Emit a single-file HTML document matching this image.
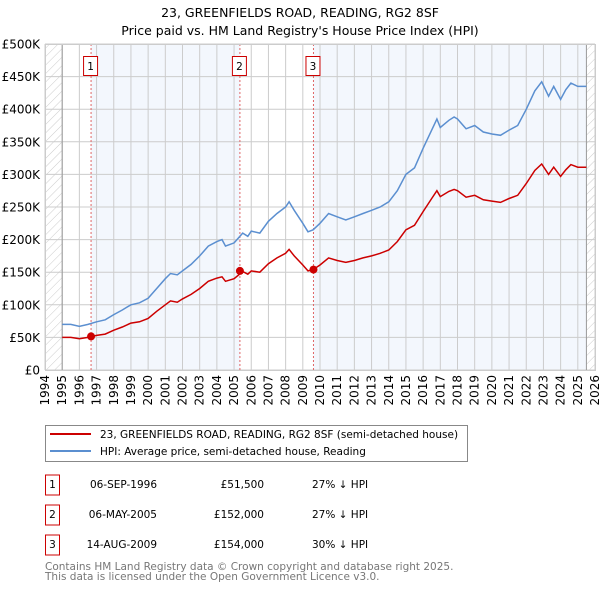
<!DOCTYPE html>
<html><head><meta charset="utf-8"><style>
html,body{margin:0;padding:0;background:#fff;}
svg{display:block;font-family:"DejaVu Sans","Liberation Sans",sans-serif;}
</style></head><body>
<svg id="chart" width="600" height="590" viewBox="0 0 600 590">
<defs>
<pattern id="hatch" width="6" height="6" patternUnits="userSpaceOnUse" patternTransform="rotate(45)">
<line x1="0" y1="0" x2="0" y2="6" stroke="#ccc" stroke-width="1"/>
</pattern>
</defs>
<text x="300" y="17" text-anchor="middle" font-size="12.5">23, GREENFIELDS ROAD, READING, RG2 8SF</text>
<text x="300" y="35" text-anchor="middle" font-size="12.5">Price paid vs. HM Land Registry's House Price Index (HPI)</text>
<g id="plot"></g>
<g>
<rect x="45.5" y="425.5" width="422" height="36" fill="#fff" stroke="#888"/>
<line x1="50" y1="434" x2="91" y2="434" stroke="#cc0000" stroke-width="2"/>
<text x="100" y="438" font-size="10.5">23, GREENFIELDS ROAD, READING, RG2 8SF (semi-detached house)</text>
<line x1="50" y1="451" x2="91" y2="451" stroke="#5b8fd0" stroke-width="2"/>
<text x="100" y="455" font-size="10.5">HPI: Average price, semi-detached house, Reading</text>
</g>
<g id="table" font-size="10.5"></g>
<text x="45" y="570" font-size="10.5" fill="#777">Contains HM Land Registry data © Crown copyright and database right 2025.</text>
<text x="45" y="580" font-size="10.5" fill="#777">This data is licensed under the Open Government Licence v3.0.</text>
</svg>
<script>
const years=[1995.0,1995.5,1996.0,1996.5,1997.0,1997.5,1998.0,1998.5,1999.0,1999.5,2000.0,2000.5,2001.0,2001.3,2001.7,2002.0,2002.5,2003.0,2003.5,2004.0,2004.3,2004.5,2005.0,2005.5,2005.8,2006.0,2006.5,2007.0,2007.5,2008.0,2008.2,2008.5,2009.0,2009.3,2009.6,2010.0,2010.5,2011.0,2011.5,2012.0,2012.5,2013.0,2013.5,2014.0,2014.5,2015.0,2015.5,2016.0,2016.5,2016.8,2017.0,2017.5,2017.8,2018.0,2018.5,2019.0,2019.5,2020.0,2020.5,2021.0,2021.5,2022.0,2022.5,2022.9,2023.3,2023.6,2024.0,2024.3,2024.6,2025.0,2025.5];
const hpiValues=[70,70,67,70,74,77,85,92,100,103,110,125,140,148,146,152,162,175,190,197,200,190,195,210,205,213,210,228,240,250,258,245,225,212,215,225,240,235,230,235,240,245,250,258,275,300,310,340,368,385,372,383,388,385,370,375,365,362,360,368,375,400,428,442,420,435,415,430,440,435,435];
const paidValues=[50,50,48,50,53,55,61,66,72,74,79,90,100,106,104,109,116,125,136,141,143,136,140,151,147,152,150,163,172,179,185,175,161,152,154,161,172,168,165,168,172,175,179,184,197,215,222,243,263,275,266,274,277,275,265,268,261,259,257,263,268,286,306,316,300,311,297,307,315,311,311];
const saleYears=[1996.68,2005.34,2009.62];
const salePrices=[51.5,152,154];
const saleDates=["06-SEP-1996","06-MAY-2005","14-AUG-2009"];
const salePriceLabels=["£51,500","£152,000","£154,000"];
const saleDiffs=["27% ↓ HPI","27% ↓ HPI","30% ↓ HPI"];
const yTicks=[0,50,100,150,200,250,300,350,400,450,500];
const yTickLabels=["£0","£50K","£100K","£150K","£200K","£250K","£300K","£350K","£400K","£450K","£500K"];
const xTicks=[1994,1995,1996,1997,1998,1999,2000,2001,2002,2003,2004,2005,2006,2007,2008,2009,2010,2011,2012,2013,2014,2015,2016,2017,2018,2019,2020,2021,2022,2023,2024,2025,2026];

const NS="http://www.w3.org/2000/svg";
const L=45,R=595,T=44,B=370;
const x=v=>L+(v-1994)*(R-L)/32;
const y=v=>B-v*(B-T)/500;
const plot=document.getElementById('plot');
function mk(tag,attrs,parent){const e=document.createElementNS(NS,tag);for(const k in attrs)e.setAttribute(k,attrs[k]);(parent||plot).appendChild(e);return e;}

let e;
e=mk('rect',{x:L,y:T,width:R-L,height:B-T,fill:'#fff'});


// shaded periods
e=mk('rect',{x:x(saleYears[0]),y:T,width:x(saleYears[1])-x(saleYears[0]),height:B-T,fill:'#eef3fc',opacity:0.7});


e=mk('rect',{x:x(saleYears[2]),y:T,width:x(2025.5)-x(saleYears[2]),height:B-T,fill:'#eef3fc',opacity:0.7});


e=mk('rect',{x:L,y:T,width:x(1995)-L,height:B-T,fill:'url(#hatch)'});


e=mk('rect',{x:x(2025.5),y:T,width:R-x(2025.5),height:B-T,fill:'url(#hatch)'});


// grid
xTicks.forEach((t,i)=>{
 e=mk('line',{x1:x(t),x2:x(t),y1:T,y2:B,stroke:'#ccc','stroke-width':1});
 
 
 e=mk('text',{x:0,y:0,'font-size':12,'text-anchor':'end',transform:`translate(${x(t)+4},${B+5}) rotate(-90)`});
 e.textContent=t;
 
 
});
yTicks.forEach((t,i)=>{
 e=mk('line',{x1:L,x2:R,y1:y(t),y2:y(t),stroke:'#ccc','stroke-width':1});
 
 
 e=mk('text',{x:40,y:y(t)+4.5,'font-size':12,'text-anchor':'end'});
 e.textContent=yTickLabels[i];
 
 
});
e=mk('line',{x1:x(1995),x2:x(1995),y1:T,y2:B,stroke:'#999'});


e=mk('line',{x1:x(2025.5),x2:x(2025.5),y1:T,y2:B,stroke:'#999'});


// sale lines & markers
saleYears.forEach((s,i)=>{
 e=mk('line',{x1:x(s),x2:x(s),y1:T,y2:B,stroke:'#e06666','stroke-dasharray':'2,2'});
 
 
 e=mk('rect',{x:x(s)-7.5,y:56.5,width:14,height:19,fill:'#fff',stroke:'#cc0000'});
 
 
 e=mk('text',{x:x(s)-0.5,y:70,'font-size':10.5,'text-anchor':'middle'});
 e.textContent=i+1;
 
 
});
// lines
const pts=v=>years.map((yr,i)=>x(yr).toFixed(1)+','+y(v[i]).toFixed(1)).join(' ');
e=mk('polyline',{points:pts(hpiValues),fill:'none',stroke:'#5b8fd0','stroke-width':1.5});


e=mk('polyline',{points:pts(paidValues),fill:'none',stroke:'#cc0000','stroke-width':1.5});


saleYears.forEach((s,i)=>{
 e=mk('circle',{cx:x(s),cy:y(salePrices[i]),r:4,fill:'#cc0000'});
 
 
});
e=mk('rect',{x:L+0.5,y:T+0.5,width:R-L,height:B-T,fill:'none',stroke:'#ccc'});


// table
const tbl=document.getElementById('table');
saleDates.forEach((d,i)=>{
 const cy=485+i*30;
 e=mk('rect',{x:45.5,y:cy-10,width:14,height:20,fill:'#fff',stroke:'#cc0000'},tbl);
 
 
 e=mk('text',{x:52.5,y:cy+3,'text-anchor':'middle'},tbl);
 e.textContent=i+1;
 
 
 e=mk('text',{x:157,y:cy+3,'text-anchor':'end'},tbl);
 e.textContent=d;
 
 
 e=mk('text',{x:264,y:cy+3,'text-anchor':'end'},tbl);
 e.textContent=salePriceLabels[i];
 
 
 e=mk('text',{x:312,y:cy+3},tbl);
 e.textContent=saleDiffs[i];
 
 
});
</script>
</body></html>
